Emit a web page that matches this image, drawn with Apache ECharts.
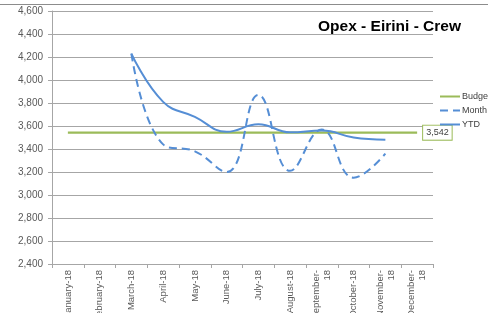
<!DOCTYPE html>
<html><head><meta charset="utf-8">
<script src="https://cdn.jsdelivr.net/npm/echarts@6/dist/echarts.min.js"></script>
<style>html,body{margin:0;padding:0;background:#fff}#c{width:488px;height:313px}</style>
</head><body><div id="c"></div>
<script>
const categories = ["January-18","February-18","March-18","April-18","May-18","June-18","July-18","August-18","September-\n18","October-18","November-\n18","December-\n18"];
const budget = [3542,3542,3542,3542,3542,3542,3542,3542,3542,3542,3542,3542];
const month  = [null,null,4230,3440,3380,3200,3870,3210,3570,3150,3360,null];
const ytd    = [null,null,4230,3810,3680,3550,3615,3545,3560,3500,3480,null];
const yTicks = {min:2400, max:4600, interval:200};

const FONT = "Liberation Sans";
const chart = echarts.init(document.getElementById('c'), null, {renderer:'canvas'});
chart.setOption({
  animation:false,
  textStyle:{fontFamily:FONT},
  title:{text:"Opex - Eirini - Crew", right:22, top:14,
    textStyle:{fontFamily:FONT, fontSize:15.5, fontWeight:'bold', color:'#000'}},
  legend:{orient:'vertical', left:434, top:87, itemGap:5, itemWidth:20, itemHeight:8,
    itemStyle:{opacity:0},
    textStyle:{fontFamily:FONT, fontSize:9, color:'#404040', padding:[0,0,0,-3]},
    data:['Budget','Month','YTD']},
  grid:{left:52, right:55, top:11, bottom:49, containLabel:false, outerBoundsMode:'none'},
  xAxis:{type:'category', data:categories, boundaryGap:true,
    axisLine:{lineStyle:{color:'#a6a6a6'}},
    axisTick:{show:true, length:4, lineStyle:{color:'#a6a6a6'}},
    axisLabel:{rotate:90, margin:6, fontSize:9.5, color:'#595959', interval:0, lineHeight:11}},
  yAxis:{type:'value', min:yTicks.min, max:yTicks.max, interval:yTicks.interval,
    axisLine:{show:true, lineStyle:{color:'#a6a6a6'}},
    axisTick:{show:true, length:4, lineStyle:{color:'#a6a6a6'}},
    splitLine:{lineStyle:{color:'#a6a6a6', width:1}},
    axisLabel:{margin:9, fontSize:10, color:'#595959',
      formatter:v=>v.toLocaleString('en-US')}},
  graphic:[{type:'line', shape:{x1:0,y1:4.5,x2:488,y2:4.5}, style:{stroke:'#8c8c8c', lineWidth:1}}],
  series:[
    {name:'Budget', type:'line', data:budget, symbol:'none', showSymbol:false,
     lineStyle:{color:'#9bbb59', width:2.2}, itemStyle:{color:'#9bbb59'},
     endLabel:{show:true, formatter:p=>p.value.toLocaleString('en-US'), distance:6,
       fontSize:9, color:'#404040', backgroundColor:'#fff', borderColor:'#9bbb59', borderWidth:1,
       padding:[3,3,2,3]}},
    {name:'Month', type:'line', data:month, symbol:'none', showSymbol:false, smooth:0.45,
     lineStyle:{color:'#558ed5', width:2, type:[8,5]}, itemStyle:{color:'#558ed5'}},
    {name:'YTD', type:'line', data:ytd, symbol:'none', showSymbol:false, smooth:0.45,
     lineStyle:{color:'#558ed5', width:2}, itemStyle:{color:'#558ed5'}}
  ]
});
</script></body></html>
